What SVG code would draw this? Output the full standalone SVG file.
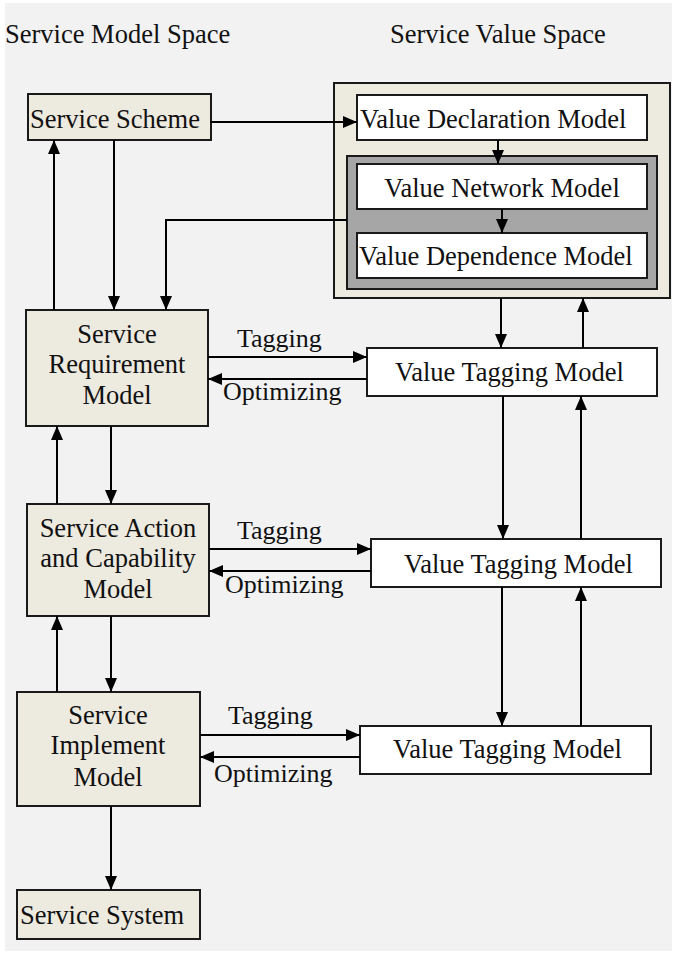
<svg xmlns="http://www.w3.org/2000/svg" width="673" height="954" viewBox="0 0 673 954">
<defs>
<marker id="ah" viewBox="0 0 14 12" refX="14" refY="6" markerWidth="14" markerHeight="12" markerUnits="userSpaceOnUse" orient="auto">
<path d="M0,0 L14,6 L0,12 Z" fill="#000"/>
</marker>
</defs>
<style>
text{font-family:"Liberation Serif","Times New Roman",serif;font-size:26.5px;fill:#111}
.beige{fill:#edeae0;stroke:#1a1a1a;stroke-width:2}
.white{fill:#fff;stroke:#1a1a1a;stroke-width:2}
.gray{fill:#a6a6a6;stroke:#1a1a1a;stroke-width:2}
.c{fill:none;stroke:#000;stroke-width:2;marker-end:url(#ah)}
.p{fill:none;stroke:#000;stroke-width:2}
.m{text-anchor:middle}
.lbl{font-size:26px}
</style>
<rect x="0" y="0" width="673" height="954" fill="#fff"/>
<rect x="5" y="3" width="667" height="948" fill="#f2f2f2"/>
<g id="headers">
<text x="5" y="43">Service Model Space</text>
<text x="390" y="43">Service Value Space</text>
</g>
<g id="value-space">
<rect class="beige" x="334" y="83" width="336" height="215"/>
</g>
<g id="value-network-group">
<rect class="gray" x="347" y="156" width="310" height="133"/>
</g>
<g id="service-scheme">
<rect class="beige" x="28" y="94" width="183" height="46"/>
<text x="30" y="128">Service Scheme</text>
</g>
<g id="value-declaration">
<rect class="white" x="357" y="95" width="290" height="45"/>
<text x="360" y="128">Value Declaration Model</text>
</g>
<g id="value-network">
<rect class="white" x="357" y="164" width="290" height="45"/>
<text class="m" x="502" y="197">Value Network Model</text>
</g>
<g id="value-dependence">
<rect class="white" x="357" y="233" width="290" height="45"/>
<text x="359" y="265">Value Dependence Model</text>
</g>
<g id="service-requirement">
<rect class="beige" x="26" y="310" width="182" height="116"/>
<text class="m" x="117" y="343">Service</text>
<text class="m" x="117" y="373">Requirement</text>
<text class="m" x="117" y="404">Model</text>
</g>
<g id="value-tagging-1">
<rect class="white" x="367" y="348" width="290" height="48"/>
<text x="395" y="381">Value Tagging Model</text>
</g>
<g id="service-action">
<rect class="beige" x="27" y="504" width="182" height="112"/>
<text class="m" x="118" y="537">Service Action</text>
<text class="m" x="118" y="567">and Capability</text>
<text class="m" x="118" y="598">Model</text>
</g>
<g id="value-tagging-2">
<rect class="white" x="371" y="539" width="290" height="48"/>
<text x="404" y="573">Value Tagging Model</text>
</g>
<g id="service-implement">
<rect class="beige" x="17" y="692" width="183" height="114"/>
<text class="m" x="108" y="724">Service</text>
<text class="m" x="108" y="754">Implement</text>
<text class="m" x="108" y="786">Model</text>
</g>
<g id="value-tagging-3">
<rect class="white" x="360" y="726" width="291" height="48"/>
<text x="393" y="758">Value Tagging Model</text>
</g>
<g id="service-system">
<rect class="beige" x="17" y="890" width="183" height="49"/>
<text x="20" y="924">Service System</text>
</g>
<g id="connectors">
<path class="c" d="M210,122 H357"/>
<path class="c" d="M498,140 V164"/>
<path class="c" d="M502,209 V233"/>
<path class="c" d="M347,220 H166 V310"/>
<path class="c" d="M114,140 V310"/>
<path class="c" d="M54,310 V140"/>
<path class="c" d="M501,298 V348"/>
<path class="c" d="M583,348 V298"/>
<path class="c" d="M208,357 H367"/>
<path class="c" d="M367,379 H208"/>
<path class="c" d="M111,426 V504"/>
<path class="c" d="M57,504 V426"/>
<path class="c" d="M503,396 V539"/>
<path class="c" d="M581,539 V396"/>
<path class="c" d="M209,549 H371"/>
<path class="c" d="M371,571 H209"/>
<path class="c" d="M111,616 V692"/>
<path class="c" d="M57,692 V616"/>
<path class="c" d="M502,587 V726"/>
<path class="c" d="M581,726 V587"/>
<path class="c" d="M200,735 H360"/>
<path class="c" d="M360,757 H200"/>
<path class="c" d="M111,806 V890"/>
<text class="lbl" x="237" y="347">Tagging</text>
<text class="lbl" x="223" y="400">Optimizing</text>
<text class="lbl" x="237" y="539">Tagging</text>
<text class="lbl" x="225" y="593">Optimizing</text>
<text class="lbl" x="228" y="724">Tagging</text>
<text class="lbl" x="214" y="782">Optimizing</text>
</g>
</svg>
